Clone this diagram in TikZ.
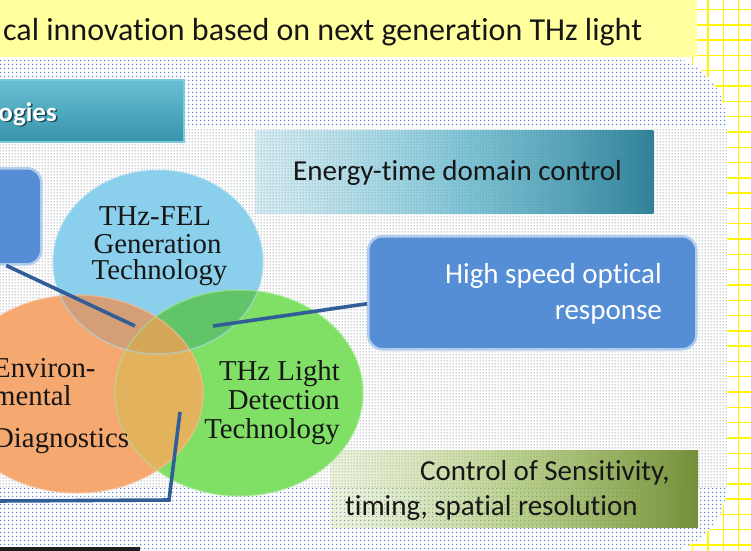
\documentclass[tikz,border=0pt]{standalone}
\usepackage{fontspec}
\setmainfont{Liberation Serif}
\newfontfamily\carlito[Ligatures=NoCommon]{Carlito}
\usetikzlibrary{patterns.meta,fadings,calc}

% palette
\definecolor{gridyellow}{RGB}{255,246,0}
\definecolor{bannerfill}{RGB}{255,255,158}
\definecolor{dotblue}{RGB}{95,135,215}
\definecolor{dotgray}{RGB}{130,135,145}
\definecolor{tealtop}{RGB}{105,192,212}
\definecolor{tealbot}{RGB}{55,148,170}
\definecolor{tealrim}{RGB}{125,202,220}
\definecolor{tealshade}{RGB}{25,70,85}
\definecolor{energyL}{RGB}{140,205,222}
\definecolor{energyM}{RGB}{75,172,198}
\definecolor{energyR}{RGB}{49,130,152}
\definecolor{oliveL}{RGB}{205,222,160}
\definecolor{oliveM}{RGB}{155,187,89}
\definecolor{oliveR}{RGB}{116,143,58}
\definecolor{boxblue}{RGB}{85,142,213}
\definecolor{boxrim}{RGB}{178,204,238}
\definecolor{linkblue}{RGB}{50,94,152}
\definecolor{textdark}{RGB}{22,22,22}
\definecolor{circblue}{RGB}{138,207,235}
\definecolor{circorange}{RGB}{245,168,112}
\definecolor{circgreen}{RGB}{128,224,102}
\definecolor{mixBO}{RGB}{212,158,118}
\definecolor{mixBG}{RGB}{98,196,104}
\definecolor{mixOG}{RGB}{226,178,92}
\definecolor{mixBOG}{RGB}{212,166,88}

% dotted paper textures
\tikzdeclarepattern{
  name=bluedots, type=uncolored,
  bounding box={(0pt,0pt) and (4pt,3.5pt)},
  tile size={(4pt,3.5pt)},
  code={\pgfpathcircle{\pgfqpoint{2pt}{1.75pt}}{0.85pt}\pgfusepath{fill}}
}
\tikzdeclarepattern{
  name=graydots, type=uncolored,
  bounding box={(0pt,0pt) and (3pt,3pt)},
  tile size={(3pt,3pt)},
  code={\pgfpathcircle{\pgfqpoint{1.5pt}{1.5pt}}{0.7pt}\pgfusepath{fill}}
}

% gradient bars fade in from the left
\tikzfading[name=fadeleft, left color=transparent!65, middle color=transparent!10, right color=transparent!0]

\tikzset{
  gridline/.style={draw=gridyellow, line width=1.4pt},
  conn/.style={draw=linkblue, line width=3.6pt},
  bluebox/.style={fill=boxblue, draw=boxrim, line width=2.5pt, rounded corners=14pt, inner sep=0pt},
  sanstext/.style={font=\carlito\fontsize{29}{34}\selectfont, inner sep=0pt},
  seriftext/.style={font=\fontsize{28.8}{30}\selectfont, inner sep=0pt, text=textdark},
  circrim/.style={line width=1.5pt, draw opacity=0.55},
}

\begin{document}
\begin{tikzpicture}[x=1pt,y=-1pt]
\useasboundingbox (0,0) rectangle (751,550);
\clip (0,0) rectangle (751,550);

% squared paper
\fill[white] (0,0) rectangle (751,550);
\foreach \i in {-47,...,3}
  \draw[gridline] ({708+15.3*\i},-2) -- ({708+15.3*\i},552);
\foreach \i in {0,...,36}
  \draw[gridline] (-2,{9.5+15.3*\i}) -- (753,{9.5+15.3*\i});

% large rounded panel with dotted texture
\fill[white, rounded corners=70pt] (-80,55) rectangle (727,553);
\fill[pattern={bluedots}, pattern color=dotblue, rounded corners=70pt] (-80,55) rectangle (727,553);
\begin{scope}
  \clip[rounded corners=70pt] (-80,55) rectangle (727,553);
  \fill[white] (-80,128) rectangle (740,488);
  \fill[pattern={graydots}, pattern color=dotgray] (-80,128) rectangle (740,488);
\end{scope}

% title banner
\fill[bannerfill] (-5,-5) rectangle (697,57);
\node[sanstext, font=\carlito\fontsize{32}{36}\selectfont, anchor=base west, text=textdark] (title) at (3,40)
  {cal innovation based on next generation THz light};

% section header bar
\node[anchor=north west, minimum width=203pt, minimum height=62pt, inner sep=0pt,
      top color=tealtop, bottom color=tealbot, draw=tealrim, line width=1.5pt]
  (techbox) at (-20,79) {};
\node[font=\carlito\bfseries\fontsize{27}{32}\selectfont, inner sep=0pt,
      anchor=base east, text=white] (techtext) at (57,121)
  {\makebox[0pt][l]{\hspace{1.6pt}\raisebox{-1.6pt}{\color{tealshade}ogies}}ogies};

% gradient bars
\node[anchor=north west, minimum width=398pt, minimum height=83pt, inner sep=0pt,
      left color=energyL, right color=energyR, middle color=energyM, path fading=fadeleft]
  (energy) at (255,130) {};
\node[sanstext, anchor=base west, text=textdark] (energytext) at (293,180)
  {Energy-time domain control};

\node[anchor=north west, minimum width=368pt, minimum height=77pt, inner sep=0pt,
      left color=oliveL, right color=oliveR, middle color=oliveM, path fading=fadeleft]
  (control) at (330,450) {};
\node[sanstext, anchor=base west, text=textdark] (control1) at (420,480)
  {Control of Sensitivity,};
\node[sanstext, anchor=base west, text=textdark] (control2) at (345,515)
  {timing, spatial resolution};

% three overlapping technology fields
\fill[circblue]   (158,262) ellipse [x radius=105, y radius=92];
\fill[circgreen]  (239,393) ellipse [x radius=124, y radius=103];
\fill[circorange] (77,394)  ellipse [x radius=126, y radius=99];
\begin{scope}
  \clip (77,394) ellipse [x radius=126, y radius=99];
  \fill[mixOG] (239,393) ellipse [x radius=124, y radius=103];
\end{scope}
\begin{scope}
  \clip (158,262) ellipse [x radius=105, y radius=92];
  \fill[mixBO] (77,394) ellipse [x radius=126, y radius=99];
  \fill[mixBG] (239,393) ellipse [x radius=124, y radius=103];
  \clip (77,394) ellipse [x radius=126, y radius=99];
  \fill[mixBOG] (239,393) ellipse [x radius=124, y radius=103];
\end{scope}
\draw[circrim, draw=circblue!70!white]   (158,262) ellipse [x radius=105, y radius=92];
\draw[circrim, draw=circgreen!70!white]  (239,393) ellipse [x radius=124, y radius=103];
\draw[circrim, draw=circorange!70!white] (77,394)  ellipse [x radius=126, y radius=99];

\node[seriftext, anchor=base] (fel1) at (155,225) {THz-FEL};
\node[seriftext, anchor=base] (fel2) at (157.5,253) {Generation};
\node[seriftext, anchor=base] (fel3) at (159.5,279) {Technology};

\node[seriftext, anchor=base east] (det1) at (340,380) {THz Light};
\node[seriftext, anchor=base east] (det2) at (340,409) {Detection};
\node[seriftext, anchor=base east] (det3) at (340,438) {Technology};

\node[seriftext, anchor=base west] (env1) at (-7,377) {Environ-};
\node[seriftext, anchor=base west] (env2) at (-7,405) {mental};
\node[seriftext, anchor=base west] (env3) at (-7,447) {Diagnostics};

% callout boxes
\node[bluebox, anchor=north west, minimum width=70pt, minimum height=96pt] (leftbox) at (-30,167) {};
\node[bluebox, anchor=north west, minimum width=328pt, minimum height=113pt] (hsbox) at (367,235) {};
\node[sanstext, anchor=base east, text=white] (hs1) at (662,283) {High speed optical};
\node[sanstext, anchor=base east, text=white] (hs2) at (662,319) {response};

% connectors
\coordinate (c1) at (135,326);
\coordinate (c2) at (213,326);
\coordinate (c3) at (180,412);
\coordinate (c3b) at (169,500);
\coordinate (c3end) at (-5,501);
\draw[conn] (leftbox.south) -- (c1);
\draw[conn] (c2) -- ($(hsbox.west)+(0,11)$);
\draw[conn] (c3) -- (c3b) -- (c3end);

% edge of a dark bar along the bottom
\fill[black!88] (0,547) rectangle (140,551);
\end{tikzpicture}
\end{document}
